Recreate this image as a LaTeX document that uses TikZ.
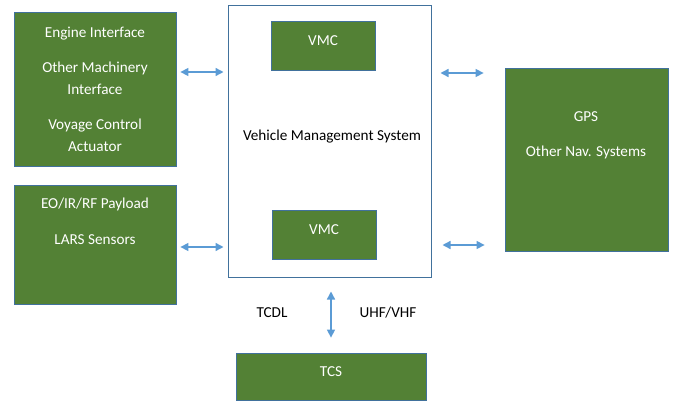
\documentclass[tikz,border=0pt]{standalone}
\usepackage{fontspec}
\setmainfont{Carlito}
\usetikzlibrary{arrows.meta, positioning}
\definecolor{LeafGreen}{HTML}{538135}
\definecolor{EdgeBlue}{HTML}{41719C}
\definecolor{LinkBlue}{HTML}{5B9BD5}

\begin{document}
\begin{tikzpicture}[
    x=1pt, y=-1pt,
    unit/.style={draw=EdgeBlue, line width=0.8pt, fill=LeafGreen,
                 text=white, inner sep=0pt, align=center,
                 font=\fontsize{15.2}{22}\selectfont},
    oneline/.style={text height=10pt, text depth=10pt},
    frame/.style={draw=EdgeBlue, line width=1pt, fill=white, inner sep=0pt},
    txt/.style={text=white, align=center, inner sep=0pt,
                font=\fontsize{15.2}{22}\selectfont},
    link/.style={{Triangle[width=8pt,length=8pt]}-{Triangle[width=8pt,length=8pt]},
                 line width=1.4pt, LinkBlue},
    lab/.style={font=\fontsize{15.2}{18}\selectfont, text=black}
  ]
    \useasboundingbox (0,0) rectangle (675,405);

    % Centre: vehicle management system
    \node[frame, minimum width=203pt, minimum height=272pt] (vms) at (329.5,141) {};
    \node[lab] (vmstxt) at (332,137) {Vehicle Management System};
    \node[unit, oneline, minimum width=104pt, minimum height=49pt] (vmc1) at (323,45.5)  {VMC};
    \node[unit, oneline, minimum width=104pt, minimum height=49pt] (vmc2) at (324,234.5) {VMC};

    % Left column
    \node[unit, minimum width=162pt, minimum height=154pt] (engine) at (95,89)
      {Engine Interface\\[13pt]Other Machinery\\Interface\\[13pt]Voyage Control\\Actuator};
    \node[unit, minimum width=162pt, minimum height=119pt] (payload) at (95,244.5) {};
    \node[txt] (payloadtxt) at (95,221) {EO/IR/RF Payload\\[14pt]LARS Sensors};

    % Right column
    \node[unit, minimum width=163pt, minimum height=183pt] (gps) at (586.5,159.5) {};
    \node[txt] (gpstxt) at (586,135.5) {GPS\\[13pt]Other Nav. Systems};

    % Bottom
    \node[unit, oneline, minimum width=190pt, minimum height=47pt] (tcs) at (331,376.5) {TCS};

    % Links
    \draw[link, shorten <=4pt, shorten >=4pt]
      ([yshift=17pt]engine.east) -- ([yshift=17pt]engine.east -| vms.west);
    \draw[link, shorten <=4pt, shorten >=4pt]
      ([yshift=-2.5pt]payload.east) -- ([yshift=-2.5pt]payload.east -| vms.west);
    \draw[link, shorten <=9pt, shorten >=21pt]
      ([yshift=68pt]vms.east) -- ([yshift=68pt]vms.east -| gps.west);
    \draw[link, shorten <=11pt, shorten >=20pt]
      ([yshift=-104pt]vms.east) -- ([yshift=-104pt]vms.east -| gps.west);
    \draw[link, shorten <=14pt, shorten >=15pt] (vms.south -| tcs.north) -- (tcs.north);

    % Link labels
    \node[lab] (tcdl) at (272,313) {TCDL};
    \node[lab] (uhf)  at (388,313) {UHF/VHF};
  \end{tikzpicture}
\end{document}
